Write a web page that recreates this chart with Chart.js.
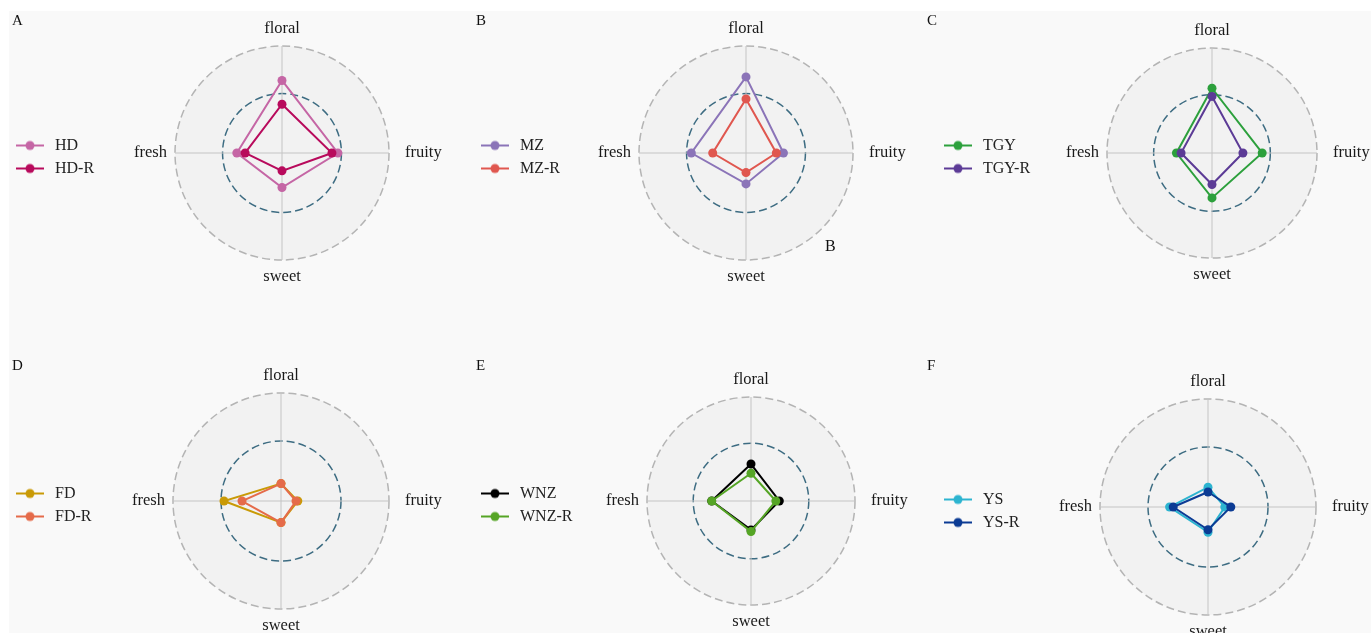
<!DOCTYPE html>
<html>
<head>
<meta charset="utf-8">
<script src="https://cdn.jsdelivr.net/npm/chart.js"></script>
<style>
    html, body {
        margin: 0;
        padding: 0;
        width: 1371px;
        height: 633px;
        overflow: hidden;
        background: #fff;
        font-family: "Liberation Serif", serif;
    }
    #bg {
        position: absolute;
        left: 9px; top: 11px; right: 0; bottom: 0;
        background: #f9f9f9;
    }
    canvas { position: absolute; }
    .tag {
        position: absolute;
        font-size: 15px;
        line-height: 15px;
        color: #111;
    }
</style>
</head>
<body>
<div id="bg"></div>

<canvas id="chartA" width="552" height="268" style="left:6px;top:19px"></canvas>
<canvas id="chartB" width="550" height="268" style="left:471px;top:19px"></canvas>
<canvas id="chartC" width="556" height="264" style="left:934px;top:21px"></canvas>
<canvas id="chartD" width="550" height="270" style="left:6px;top:366px"></canvas>
<canvas id="chartE" width="560" height="262" style="left:471px;top:370px"></canvas>
<canvas id="chartF" width="548" height="270" style="left:934px;top:372px"></canvas>

<div class="tag" style="left:12px;top:13px">A</div>
<div class="tag" style="left:476px;top:13px">B</div>
<div class="tag" style="left:927px;top:13px">C</div>
<div class="tag" style="left:12px;top:358px">D</div>
<div class="tag" style="left:476px;top:358px">E</div>
<div class="tag" style="left:927px;top:358px">F</div>
<div class="tag" style="left:825px;top:238px;font-size:16px;line-height:16px">B</div>

<script>
// axes (clockwise from top) and the radial grid circles
const axes = ['floral', 'fruity', 'sweet', 'fresh'];
const gridValues = [0, 1, 1.8];

// values per axis: floral, fruity, sweet, fresh
const hd   = [1.22, 0.94, 0.58, 0.76];
const hdR  = [0.82, 0.84, 0.30, 0.62];
const mz   = [1.28, 0.63, 0.52, 0.92];
const mzR  = [0.91, 0.51, 0.33, 0.56];
const tgy  = [1.11, 0.86, 0.77, 0.61];
const tgyR = [0.97, 0.53, 0.54, 0.53];
const fd   = [0.29, 0.28, 0.36, 0.95];
const fdR  = [0.29, 0.25, 0.36, 0.65];
const wnz  = [0.64, 0.49, 0.50, 0.68];
const wnzR = [0.48, 0.43, 0.53, 0.68];
const ys   = [0.33, 0.28, 0.42, 0.64];
const ysR  = [0.25, 0.38, 0.38, 0.58];

// legend symbol: short line with a dot
function legendIcon(color) {
    const c = document.createElement('canvas');
    c.width = 28;
    c.height = 12;
    const g = c.getContext('2d');
    g.strokeStyle = color;
    g.lineWidth = 2;
    g.beginPath();
    g.moveTo(0, 6);
    g.lineTo(28, 6);
    g.stroke();
    g.fillStyle = color;
    g.beginPath();
    g.arc(14, 6, 4.5, 0, Math.PI * 2);
    g.fill();
    return c;
}

function makeRadar(id, names, series, colors) {
    const icons = colors.map(legendIcon);
    return new Chart(document.getElementById(id), {
        type: 'radar',
        data: {
            labels: axes,
            datasets: series.map((values, i) => ({
                label: names[i],
                data: values,
                borderColor: colors[i],
                backgroundColor: colors[i],
                pointBackgroundColor: colors[i],
                pointBorderWidth: 0,
                pointRadius: 4.5,
                borderWidth: 2,
                fill: false,
                order: series.length - 1 - i // "-R" drawn on top
            }))
        },
        options: {
            responsive: false,
            animation: false,
            events: [],
            layout: { padding: 0 },
            plugins: {
                tooltip: { enabled: false },
                legend: {
                    position: 'chartArea',
                    align: 'center',
                    // empty title only nudges the legend a little lower
                    title: { display: true, text: '', padding: 0, font: { size: 8, lineHeight: 1 } },
                    labels: {
                        usePointStyle: true,
                        pointStyleWidth: 34,
                        padding: 7,
                        color: '#222',
                        textAlign: 'left',
                        font: { family: 'Liberation Serif', size: 16 },
                        sort: (a, b) => a.datasetIndex - b.datasetIndex,
                        generateLabels: chart => Chart.defaults.plugins.legend.labels.generateLabels(chart).map(item => {
                            item.pointStyle = icons[item.datasetIndex];
                            return item;
                        })
                    }
                }
            },
            scales: {
                r: {
                    min: 0,
                    max: 1.8,
                    backgroundColor: '#f2f2f2',
                    afterBuildTicks: s => { s.ticks = gridValues.map(v => ({ value: v })); },
                    ticks: { display: false },
                    grid: {
                        circular: true,
                        lineWidth: 1.5,
                        color: c => c.index === 1 ? '#3d6c82' : '#b4b4b4'
                    },
                    border: { dash: [8, 4] },
                    angleLines: { color: '#c4c4c4', lineWidth: 1 },
                    pointLabels: {
                        color: '#1a1a1a',
                        font: { family: 'Liberation Serif', size: 16.5, lineHeight: '20px' },
                        padding: c => [7, 16, 7, 8][c.index]
                    }
                }
            }
        }
    });
}

makeRadar('chartA', ['HD', 'HD-R'], [hd, hdR], ['#c566a5', '#b80a5c']);
makeRadar('chartB', ['MZ', 'MZ-R'], [mz, mzR], ['#8b74b8', '#e0574f']);
makeRadar('chartC', ['TGY', 'TGY-R'], [tgy, tgyR], ['#2ca03c', '#5c3b96']);
makeRadar('chartD', ['FD', 'FD-R'], [fd, fdR], ['#c99a06', '#e56b4a']);
makeRadar('chartE', ['WNZ', 'WNZ-R'], [wnz, wnzR], ['#000000', '#55a525']);
makeRadar('chartF', ['YS', 'YS-R'], [ys, ysR], ['#2db4d0', '#0b3b94']);
</script>
</body>
</html>
